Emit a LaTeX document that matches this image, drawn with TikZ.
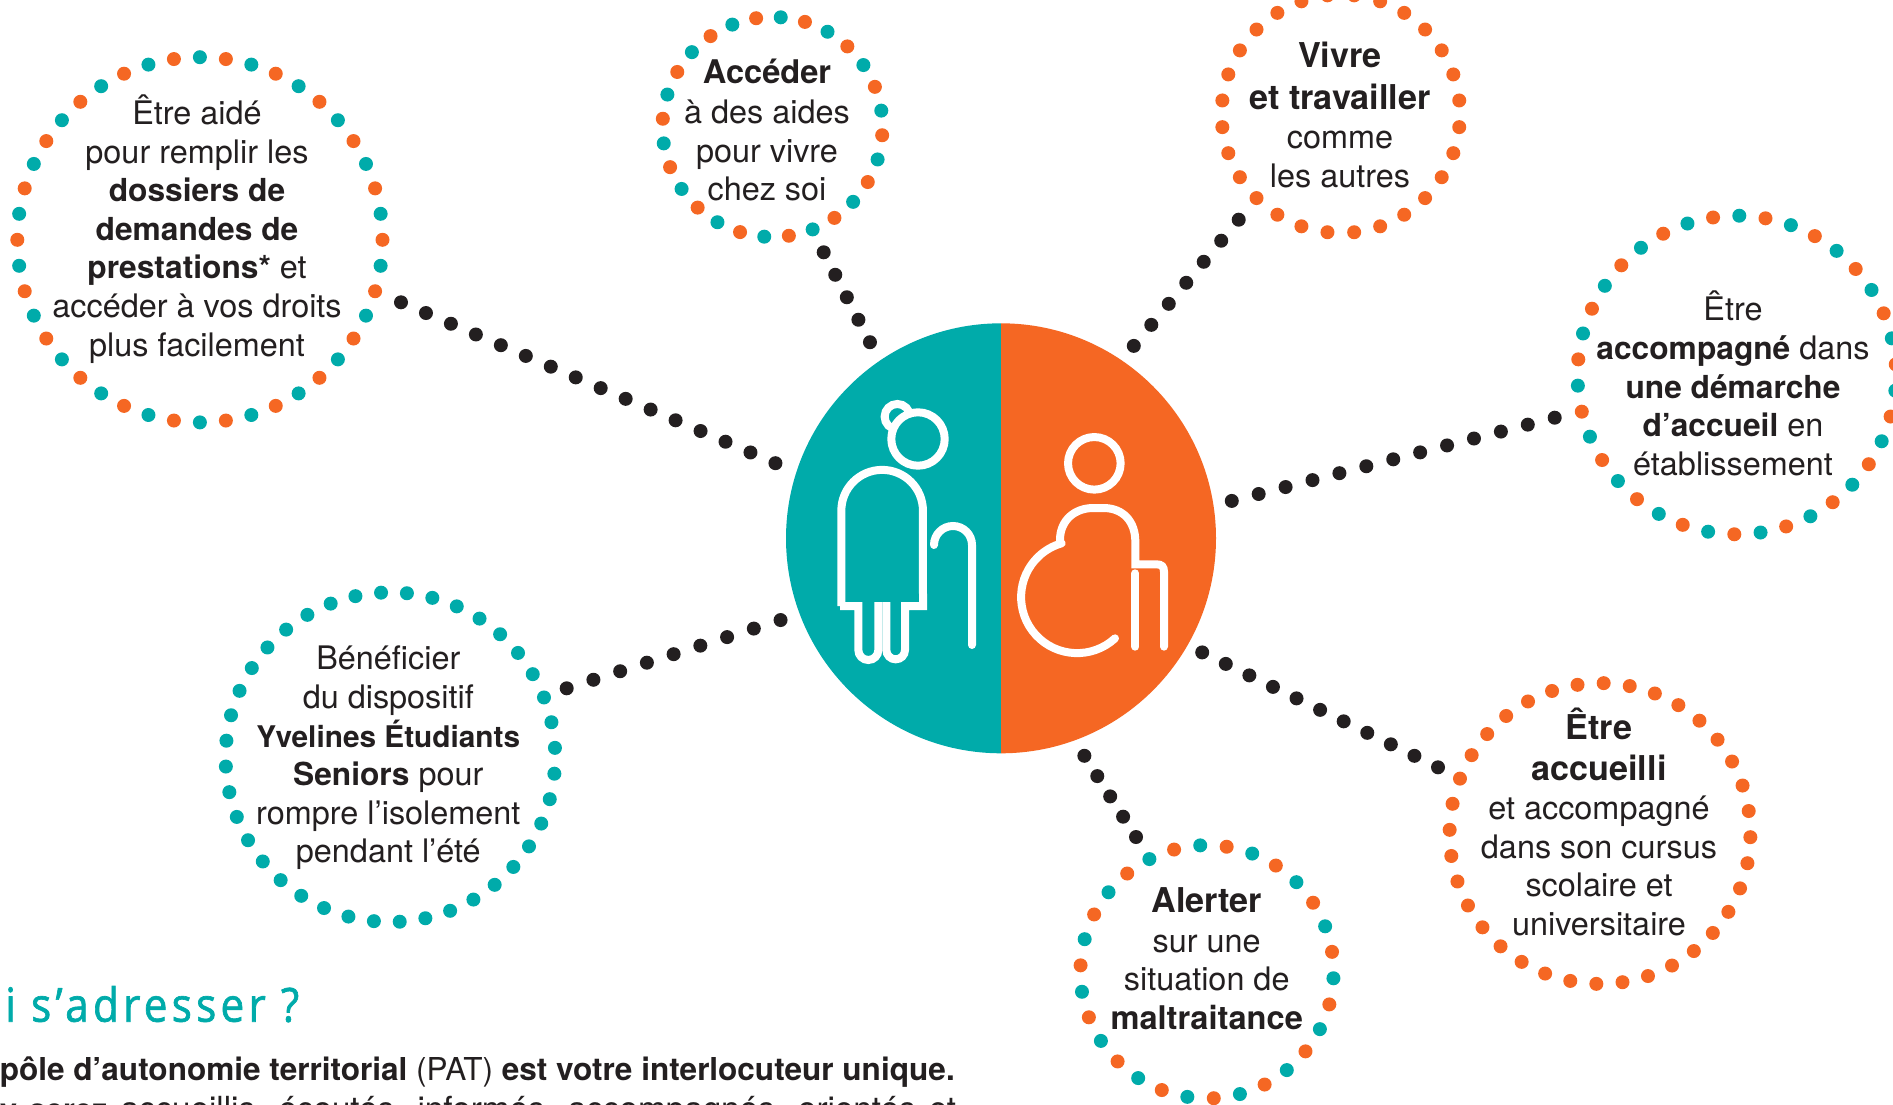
\documentclass[tikz,border=0pt]{standalone}
\usepackage{fontspec}
\setmainfont{TeX Gyre Heros}
\newfontfamily\titlefont{Open Sans}[LetterSpace=9,FakeStretch=0.9,FakeBold=1.4]
\definecolor{tealc}{HTML}{00ABAA}
\definecolor{orangec}{HTML}{F56723}
\definecolor{ink}{HTML}{231F20}
\newcommand{\ringdots}[7]{% cx cy R N start col0 col1
  \foreach \k in {1,...,#4}{%
    \pgfmathsetmacro{\aa}{#5-(\k-1)*360/#4}%
    \ifodd\k\relax\def\cc{#6}\else\def\cc{#7}\fi
    \fill[\cc] ({#1+#3*cos(\aa)},{#2-#3*sin(\aa)}) circle[radius=7pt];
  }%
}
\newcommand{\bd}[1]{{\fontsize{31.7}{38.6}\selectfont\bfseries #1}}
\newcommand{\hd}[1]{{\fontsize{34.2}{38.6}\selectfont\bfseries #1}}
\tikzset{
  lbl/.style={align=center,text=ink,inner sep=0pt,font=\fontsize{32.4}{38.6}\selectfont},
  dotlink/.style={draw=ink,line width=14pt,line cap=round,dash pattern=on 0pt off #1pt},
  icon/.style={draw=white,line width=8pt,line cap=round,line join=miter,miter limit=10},
}
\begin{document}
\begin{tikzpicture}[x=1pt,y=-1pt]
\useasboundingbox (0,0) rectangle (1893,1105);
\fill[white] (0,0) rectangle (1893,1105);
\clip (0,0) rectangle (1893,1105);
% hub
\fill[tealc] (1001,323.3) arc[start angle=90,end angle=270,radius=215pt] -- cycle;
\fill[orangec] (1001,323.3) arc[start angle=90,end angle=-90,radius=215pt] -- cycle;
\begin{scope}[shift={(770,310)},x=0.33333pt,y=-0.33333pt]
  % woman
  \draw[icon] (382,320) circle[radius=12.7pt];
  \draw[icon,fill=tealc] (444,387) circle[radius=26.7pt];
  \draw[icon,line cap=butt] (214,888) -- (214,602) arc[start angle=180,end angle=0,radius=40.8pt] -- (459,888) -- (405,888) -- (405,1020) arc[start angle=0,end angle=-180,radius=9.33pt] -- (349,876);
  \draw[icon,line cap=butt] (325,876) -- (325,1020) arc[start angle=0,end angle=-180,radius=10pt] -- (265,888) -- (210,888);
  % cane
  \draw[icon] (492,705) arc[start angle=180,end angle=0,radius=19pt] -- (606,1005);
  % man
  \draw[icon] (973,460) circle[radius=26.3pt];
  \draw[icon] (1035,985) arc[start angle=-47.4,end angle=-254,radius=56pt];
  \draw[icon,line cap=butt] (870,705) -- (870,690) .. controls (870,630) and (915,594) .. (970,594) -- (1000,594) .. controls (1060,594) and (1096,635) .. (1096,695) -- (1096,763) -- (1160,763) .. controls (1175,763) and (1182,770) .. (1182,785) -- (1182,1010);
  \fill[white] (1182,1010) circle[radius=4pt];
  \draw[icon] (1096,790) -- (1096,1010);
\end{scope}
% rings
\ringdots{199.9}{239.8}{182.6}{44}{90}{tealc}{orangec}
\ringdots{772.5}{127}{110}{28}{85.7}{tealc}{orangec}
\ringdots{1340.8}{113.8}{119.2}{28}{83.57}{orangec}{orangec}
\ringdots{1736.8}{375}{159.3}{38}{89.1}{tealc}{orangec}
\ringdots{1600}{833.5}{150.4}{36}{88.6}{orangec}{orangec}
\ringdots{1207}{971.8}{126.6}{30}{93.07}{tealc}{orangec}
\ringdots{390.4}{757.2}{164.8}{40}{93.25}{tealc}{tealc}
% connector ends
\coordinate (a1) at (401,302.3);   \coordinate (b1) at (775.7,463.3);
\coordinate (a2) at (823.7,252.3); \coordinate (b2) at (870,342.3);
\coordinate (a3) at (1238.7,219.7);\coordinate (b3) at (1133.7,346);
\coordinate (a4) at (1554.7,417.7);\coordinate (b4) at (1231.5,501);
\coordinate (a5) at (1438,767.3);  \coordinate (b5) at (1202,652.3);
\coordinate (a6) at (1136,837);    \coordinate (b6) at (1084.3,755.7);
\coordinate (a7) at (566.7,688.3); \coordinate (b7) at (780.7,620);
\draw[dotlink=27.17] (a1) -- (b1);
\draw[dotlink=25.28] (a2) -- (b2);
\draw[dotlink=27.35] (a3) -- (b3);
\draw[dotlink=27.79] (a4) -- (b4);
\draw[dotlink=26.23] (a5) -- (b5);
\draw[dotlink=24.06] (a6) -- (b6);
\draw[dotlink=28.06] (a7) -- (b7);
% labels: centre = mid baseline - 8.15
\node[lbl] (t1) at (197,231.2) {\strut Être aidé\\pour remplir les\\\bd{dossiers de}\\\bd{demandes de}\\\bd{prestations*} et\\accéder à vos droits\\plus facilement\strut};
\node[lbl] (t2) at (767,134.3) {\strut\hd{\fontsize{32.6}{38.6}\selectfont Accéder}\\[1.4pt]à des aides\\pour vivre\\chez soi\strut};
\node[lbl] (t3) at (1340,120) {\strut\hd{Vivre}\\[2.7pt]\hd{et travailler}\\[1pt]comme\\les autres\strut};
\node[lbl] (t4) at (1733,389) {\strut Être\\\bd{accompagné} dans\\\bd{une démarche}\\\bd{d’accueil} en\\établissement\strut};
\node[lbl] (t5) at (1599,827.7) {\strut\hd{Être}\\[2.4pt]\hd{accueilli}\\et accompagné\\dans son cursus\\scolaire et\\universitaire\strut};
\node[lbl] (t6) at (1206.7,963.2) {\strut\hd{Alerter}\\[0.8pt]sur une\\situation de\\{\fontsize{32.6}{38.6}\selectfont\bfseries maltraitance}\strut};
\node[lbl] (t7) at (388.3,758.6) {\strut Bénéficier\\du dispositif\\{\fontsize{29.8}{38.6}\selectfont\bfseries Yvelines Étudiants}\\\bd{Seniors} pour\\rompre l’isolement\\pendant l’été\strut};
% bottom text
\node[anchor=base west,inner sep=0pt,text=tealc,font=\titlefont\fontsize{47}{50}\selectfont] (title) at (5,1021.7) {i s’adresser ?};
\node[anchor=base east,inner sep=0pt,text=ink,font=\fontsize{31.55}{38}\selectfont] (para1) at (955,1080) {\textbf{pôle d’autonomie territorial} (PAT) \textbf{est votre interlocuteur unique.}};
\node[anchor=base west,inner sep=0pt,text=ink,font=\fontsize{33.2}{38}\selectfont] (para2) at (0,1120) {\hbox to 956pt{{\fontsize{30.5}{38}\selectfont\bfseries y serez} accueillis, écoutés, informés, accompagnés, orientés et}};
\end{tikzpicture}
\end{document}
